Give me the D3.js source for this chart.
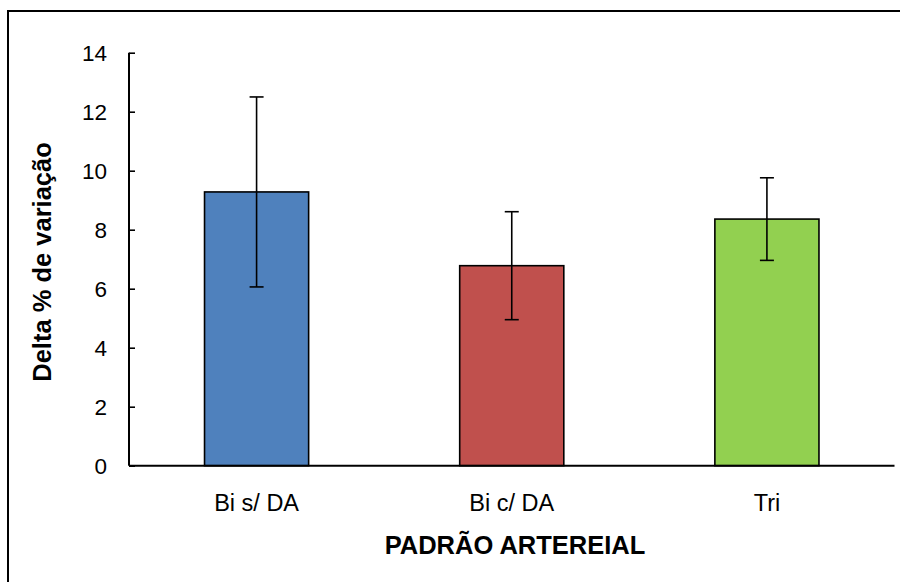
<!DOCTYPE html>
<html>
<head>
<meta charset="utf-8">
<script src="https://cdn.jsdelivr.net/npm/d3@7/dist/d3.min.js"></script>
<style>
  html, body { margin: 0; padding: 0; background: #fff; }
  svg { display: block; }
  text { font-family: Arial, "Liberation Sans", sans-serif; fill: #000; }
</style>
</head>
<body>
<svg id="chart" width="900" height="582"></svg>
<script>
const categories = ["Bi s/ DA", "Bi c/ DA", "Tri"];
const means = [9.28, 6.78, 8.36];
const errors = [3.22, 1.83, 1.40];
const colors = ["#4F81BD", "#C0504D", "#92D050"];
const yTicks = [0, 2, 4, 6, 8, 10, 12, 14];
const xTitle = "PADRÃO ARTEREIAL";
const yTitle = "Delta % de variação";

const svg = d3.select("#chart");
const plotLeft = 129, plotRight = 894.5, plotTop = 52.7, plotBottom = 465.7;

// outer frame (right and bottom edges fall outside the picture)
svg.append("rect")
  .attr("x", 8).attr("y", 11)
  .attr("width", 920).attr("height", 620)
  .attr("fill", "none").attr("stroke", "#000").attr("stroke-width", 2);

const x = d3.scaleBand()
  .domain(categories)
  .range([plotLeft, plotRight])
  .paddingInner(0.592)
  .paddingOuter(0.296);

const y = d3.scaleLinear().domain([0, 14]).range([plotBottom, plotTop]);

const data = categories.map((c, i) => ({ c, v: means[i], e: errors[i], col: colors[i] }));

// bars
svg.append("g").selectAll("rect").data(data).join("rect")
  .attr("x", d => x(d.c))
  .attr("y", d => y(d.v))
  .attr("width", x.bandwidth())
  .attr("height", d => y(0) - y(d.v))
  .attr("fill", d => d.col)
  .attr("stroke", "#000")
  .attr("stroke-width", 1.6);

// error bars
const eg = svg.append("g").attr("stroke", "#000").attr("stroke-width", 1.6);
data.forEach(d => {
  const cx = x(d.c) + x.bandwidth() / 2;
  eg.append("line").attr("x1", cx).attr("x2", cx).attr("y1", y(d.v + d.e)).attr("y2", y(d.v - d.e));
  eg.append("line").attr("x1", cx - 7).attr("x2", cx + 7).attr("y1", y(d.v + d.e)).attr("y2", y(d.v + d.e));
  eg.append("line").attr("x1", cx - 7).attr("x2", cx + 7).attr("y1", y(d.v - d.e)).attr("y2", y(d.v - d.e));
});

// y axis
const yAxis = svg.append("g")
  .attr("transform", `translate(${plotLeft},0)`)
  .call(d3.axisRight(y).tickValues(yTicks).tickSize(6).tickFormat(d3.format("d")));
yAxis.select(".domain").attr("stroke", "#000").attr("stroke-width", 2)
  .attr("d", `M0,${plotTop}V${plotBottom}`);
yAxis.selectAll(".tick line").attr("stroke", "#000").attr("stroke-width", 1.6);
yAxis.selectAll(".tick text")
  .attr("x", -22).attr("dy", "0.36em")
  .attr("text-anchor", "end")
  .style("font-family", "Arial, 'Liberation Sans', sans-serif")
  .style("font-size", "22.5px").attr("fill", "#000");

// x axis
const xAxis = svg.append("g")
  .attr("transform", `translate(0,${plotBottom})`)
  .call(d3.axisBottom(x).tickSize(0).tickPadding(0));
xAxis.select(".domain").attr("stroke", "#000").attr("stroke-width", 2)
  .attr("d", `M${plotLeft},0H${plotRight}`);
xAxis.selectAll(".tick text")
  .attr("y", 45.5).attr("dy", 0)
  .style("font-family", "Arial, 'Liberation Sans', sans-serif")
  .style("font-size", "23.5px").attr("fill", "#000");

// titles
svg.append("text")
  .attr("x", 515).attr("y", 554)
  .attr("text-anchor", "middle")
  .style("font-size", "25.5px").style("font-weight", "bold")
  .text(xTitle);

svg.append("text")
  .attr("transform", `translate(51,262) rotate(-90)`)
  .attr("text-anchor", "middle")
  .style("font-size", "25.5px").style("font-weight", "bold")
  .text(yTitle);
</script>
</body>
</html>
